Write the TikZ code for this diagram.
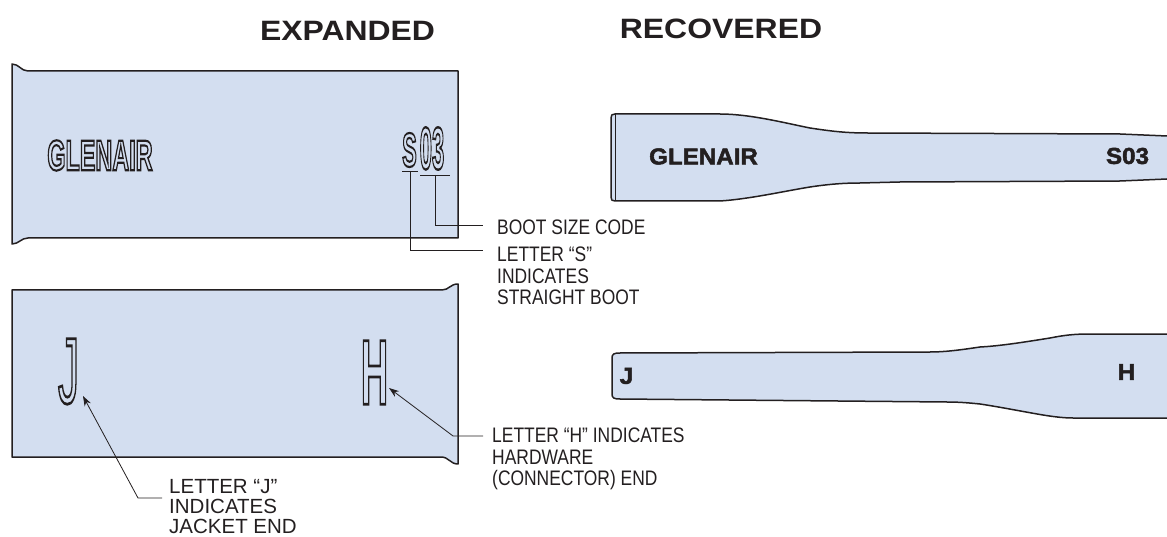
\documentclass[tikz,border=0pt]{standalone}
\usepackage{fontspec}
\usetikzlibrary{arrows.meta}
\setmainfont{Liberation Sans}
\newfontfamily\calloutfont[FakeStretch=0.83]{Liberation Sans}
\newfontfamily\headfont[FakeStretch=1.14]{Liberation Sans}
\newfontfamily\markfont[FakeStretch=1.05]{Liberation Sans}
\definecolor{bootblue}{HTML}{D3DEF0}
\definecolor{inkblack}{HTML}{231F20}
\newcommand{\outlined}[2]{\special{pdf:code 1 Tr #1 w}#2\special{pdf:code 0 Tr}}
\newcommand{\heavied}[1]{\special{pdf:code 2 Tr 0.5 w}#1\special{pdf:code 0 Tr}}
\tikzset{
	heading/.style={font=\headfont\bfseries\fontsize{28}{30}\selectfont,text=inkblack,inner sep=0pt},
	callout/.style={font=\calloutfont\fontsize{21}{21.5}\selectfont,text=inkblack,align=left,anchor=north west,inner sep=0pt},
	bootfill/.style={fill=bootblue,draw=none},
	bootline/.style={draw=inkblack,line width=1.5pt,line join=round},
	leader/.style={draw=inkblack,line width=0.8pt},
	pointer/.style={leader,-{Stealth[length=10pt,width=7pt]}},
	stamp/.style={font=\markfont\bfseries\fontsize{23}{25}\selectfont,text=inkblack,inner sep=0pt},
	engraved/.style={text=inkblack,inner sep=0pt,font=\bfseries\fontsize{20}{22}\selectfont},
}
\begin{document}
\begin{tikzpicture}[x=1pt,y=-1pt]
	\useasboundingbox (0,0) rectangle (1167,537);
	\node[heading] (expanded) at (347.5,30.5) {EXPANDED};
	\node[heading] (recovered) at (721,29) {RECOVERED};
	\draw[bootline,fill=bootblue] (12,64) .. controls (19,64) and (21,71) .. (28,71) -- (458,71) -- (458,238) -- (28,238) .. controls (21,238) and (19,244) .. (12,244) -- cycle;
	\draw[bootline,fill=bootblue] (12,290) -- (442,290) .. controls (449,290) and (450,284) .. (458,284) -- (458,464) .. controls (450,464) and (449,457) .. (441,457) -- (12,457) -- cycle;
	\def\upperedge{(1167,136) -- (1120,134) -- (867,133) .. controls (845,133) and (830,131) .. (810,128) .. controls (785,123) and (750,114) .. (720,114) -- (615,114) .. controls (612,114) and (611,115) .. (611,118) -- (611,197) .. controls (611,200) and (612,201) .. (615,201) -- (720,201) .. controls (750,199) and (785,191) .. (810,187) .. controls (830,184) and (845,183) .. (860,183) -- (900,182) -- (1120,181) -- (1167,179)}
	\fill[bootfill] \upperedge -- cycle;
	\draw[bootline] \upperedge;
	\draw[bootline,line width=0.9pt] (615,114) -- (615,201);
	\def\loweredge{(1167,334) -- (1090,334) .. controls (1075,334) and (1065,335) .. (1050,338) .. controls (1025,342) and (1000,346) .. (980,347) .. controls (960,350) and (945,352) .. (930,352) -- (620,353) .. controls (614,353) and (612,354) .. (612,358) -- (612,394) .. controls (612,398) and (614,399) .. (620,399) -- (947,402) .. controls (960,402) and (970,403) .. (980,404) .. controls (1000,407) and (1025,412) .. (1043,415) .. controls (1055,417) and (1065,418) .. (1073,418) -- (1167,418)}
	\fill[bootfill] \loweredge -- cycle;
	\draw[bootline] \loweredge;
	\node[engraved] (glenairwide) at (100,155.5) {\scalebox{1.17}[2.15]{\outlined{1.0}{GLENAIR}}};
	\node[engraved] (sletter) at (409.5,150) {\scalebox{1.1}[2.4]{\outlined{0.9}{S}}};
	\node[engraved] (sizecode) at (432,148.5) {\scalebox{1.1}[3.0]{\outlined{0.8}{03}}};
	\node[engraved,font=\mdseries\fontsize{20}{22}\selectfont] (jwide) at (68.5,371.5) {\scalebox{2.1}[4.7]{\outlined{0.6}{J}}};
	\node[engraved] (hwide) at (374.5,372.5) {\scalebox{1.9}[4.6]{\outlined{0.6}{H}}};
	\node[stamp] (glenairnarrow) at (703.5,156.5) {\heavied{GLENAIR}};
	\node[stamp] (sizenarrow) at (1127.5,156) {\heavied{S03}};
	\node[stamp] (jnarrow) at (626.5,376) {\heavied{J}};
	\node[stamp] (hnarrow) at (1126.5,372) {\heavied{H}};
	\node[callout] (bootsize) at (497,220) {BOOT SIZE CODE};
	\node[callout] (lettersboot) at (497,247) {LETTER “S”\\INDICATES\\STRAIGHT BOOT};
	\node[callout] (letterh) at (492,428) {LETTER “H” INDICATES\\HARDWARE\\(CONNECTOR) END};
	\node[callout,font=\fontsize{20.5}{20}\selectfont] (letterj) at (169,479.5) {LETTER “J”\\INDICATES\\JACKET END};
	\coordinate (sleft) at (402,171);
	\coordinate (sright) at (418,171);
	\coordinate (codeleft) at (420,175);
	\coordinate (coderight) at (450,175);
	\coordinate (sfoot) at (410,171);
	\coordinate (codefoot) at (435,175);
	\coordinate (sizeend) at (483,225);
	\coordinate (sbootend) at (483,250);
	\coordinate (hend) at (483,436);
	\coordinate (hbend) at (453,436);
	\coordinate (hhead) at (389,388);
	\coordinate (jend) at (162,498);
	\coordinate (jbend) at (138,498);
	\coordinate (jhead) at (83,396);
	\draw[leader] (sleft) -- (sright);
	\draw[leader] (codeleft) -- (coderight);
	\draw[leader] (codefoot) |- (sizeend);
	\draw[leader] (sfoot) |- (sbootend);
	\draw[pointer] (hend) -- (hbend) -- (hhead);
	\draw[pointer] (jend) -- (jbend) -- (jhead);
\end{tikzpicture}
\end{document}
